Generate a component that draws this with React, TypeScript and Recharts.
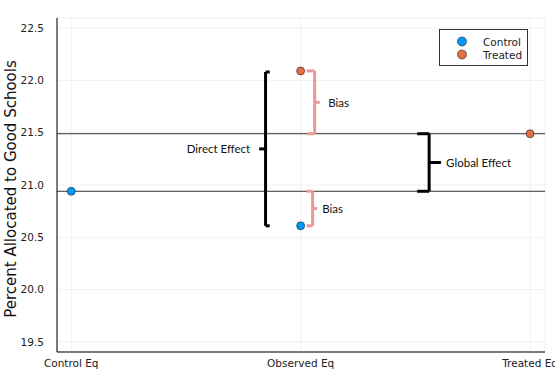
import {
  ComposedChart,
  Scatter,
  XAxis,
  YAxis,
  CartesianGrid,
  ReferenceLine,
} from "recharts";

const categories = ["Control Eq", "Observed Eq", "Treated Eq"];
const yTicks = [19.5, 20.0, 20.5, 21.0, 21.5, 22.0, 22.5];

const controlX = [0, 1];
const controlY = [20.94, 20.61];
const treatedX = [1, 2];
const treatedY = [22.09, 21.49];

// horizontal reference levels (treated / control equilibrium)
const levels = [21.49, 20.94];

// bracket annotations, in data units
const bracketLabels = ["Direct Effect", "Bias", "Bias", "Global Effect"];
const bracketSpineX = [0.847, 1.061, 1.052, 1.56];
const bracketSerifX = [0.865, 1.026, 1.026, 1.508];
const bracketTickX = [0.819, 1.083, 1.072, 1.612];
const bracketTextX = [0.78, 1.12, 1.094, 1.634];
const bracketLo = [20.61, 21.49, 20.61, 20.94];
const bracketHi = [22.08, 22.09, 20.94, 21.49];
const bracketColors = ["#000000", "#E99A97", "#E99A97", "#000000"];

const COLORS = { control: "#009AFA", treated: "#E26F46" };
const FONT = "'DejaVu Sans', sans-serif";

const controlData = controlX.map((x, i) => ({ x, y: controlY[i] }));
const treatedData = treatedX.map((x, i) => ({ x, y: treatedY[i] }));
const textData = bracketLabels.map((label, i) => ({
  x: bracketTextX[i],
  y: (bracketLo[i] + bracketHi[i]) / 2,
  label,
  anchor: bracketTextX[i] < bracketSpineX[i] ? "end" : "start",
}));

interface DotProps {
  cx?: number;
  cy?: number;
  fill?: string;
}

function Dot({ cx, cy, fill }: DotProps) {
  if (cx == null || cy == null) return null;
  return <circle cx={cx} cy={cy} r={4} fill={fill} stroke="#222" strokeWidth={0.6} />;
}

function TextMark(props: { cx?: number; cy?: number; payload?: { label: string; anchor: string } }) {
  const { cx, cy, payload } = props;
  if (cx == null || cy == null || !payload) return null;
  return (
    <text
      x={cx}
      y={cy}
      textAnchor={payload.anchor as "start" | "end"}
      dominantBaseline="central"
      fontFamily="Lato, sans-serif"
      fontSize={11.5}
      fill="#111"
    >
      {payload.label}
    </text>
  );
}

function LegendBox() {
  const rows = [
    { name: "Control", color: COLORS.control },
    { name: "Treated", color: COLORS.treated },
  ];
  return (
    <div
      style={{
        position: "absolute",
        left: 439,
        top: 29,
        width: 89,
        height: 37,
        border: "1px solid #333",
        background: "#fff",
        fontFamily: FONT,
        fontSize: 10.5,
        color: "#222",
        padding: "5px 0 0 0",
        boxSizing: "border-box",
      }}
    >
      {rows.map((r) => (
        <div key={r.name} style={{ display: "flex", alignItems: "center", height: 13 }}>
          <svg width={43} height={13}>
            <circle cx={22} cy={6.5} r={4.5} fill={r.color} stroke="#222" strokeWidth={0.6} />
          </svg>
          <span>{r.name}</span>
        </div>
      ))}
    </div>
  );
}

export default function App() {
  return (
    <div style={{ position: "absolute", left: 0, top: 0, width: 555, height: 386, background: "#fff" }}>
      <ComposedChart
        width={555}
        height={386}
        margin={{ top: 18, right: 10, bottom: 0, left: 0 }}
      >
        <CartesianGrid stroke="#000" strokeOpacity={0.07} strokeWidth={0.8} />
        <XAxis
          type="number"
          dataKey="x"
          domain={[-0.062, 2.065]}
          ticks={[0, 1, 2]}
          tickFormatter={(v: number) => categories[v] ?? ""}
          allowDataOverflow
          height={34}
          tickLine={false}
          tickMargin={2}
          axisLine={{ stroke: "#000", strokeWidth: 1 }}
          tick={{ fontSize: 10.5, fill: "#222", fontFamily: FONT }}
        />
        <YAxis
          type="number"
          dataKey="y"
          domain={[19.404, 22.596]}
          ticks={yTicks}
          tickFormatter={(v: number) => v.toFixed(1)}
          allowDataOverflow
          width={57}
          tickLine={false}
          tickMargin={7}
          axisLine={{ stroke: "#000", strokeWidth: 1 }}
          tick={{ fontSize: 10.5, fill: "#222", fontFamily: FONT }}
          label={{
            content: () => (
              <text
                x={11}
                y={189}
                transform="rotate(-90 11 189)"
                textAnchor="middle"
                dominantBaseline="central"
                fontFamily={FONT}
                fontSize={15}
                fill="#111"
              >
                Percent Allocated to Good Schools
              </text>
            ),
          }}
        />
        {levels.map((v) => (
          <ReferenceLine key={v} y={v} stroke="#333" strokeWidth={1} />
        ))}
        {bracketLabels.map((_, i) => {
          const mid = (bracketLo[i] + bracketHi[i]) / 2;
          const c = bracketColors[i];
          return [
            <ReferenceLine
              key={`s${i}`}
              segment={[
                { x: bracketSpineX[i], y: bracketLo[i] },
                { x: bracketSpineX[i], y: bracketHi[i] },
              ]}
              stroke={c}
              strokeWidth={3}
              ifOverflow="visible"
            />,
            <ReferenceLine
              key={`t${i}`}
              segment={[
                { x: bracketSerifX[i], y: bracketHi[i] },
                { x: bracketSpineX[i], y: bracketHi[i] },
              ]}
              stroke={c}
              strokeWidth={3}
              ifOverflow="visible"
            />,
            <ReferenceLine
              key={`b${i}`}
              segment={[
                { x: bracketSerifX[i], y: bracketLo[i] },
                { x: bracketSpineX[i], y: bracketLo[i] },
              ]}
              stroke={c}
              strokeWidth={3}
              ifOverflow="visible"
            />,
            <ReferenceLine
              key={`m${i}`}
              segment={[
                { x: bracketSpineX[i], y: mid },
                { x: bracketTickX[i], y: mid },
              ]}
              stroke={c}
              strokeWidth={3}
              ifOverflow="visible"
            />,
          ];
        })}
        <Scatter
          name="labels"
          data={textData}
          shape={(p: any) => <TextMark {...p} />}
          isAnimationActive={false}
          legendType="none"
        />
        <Scatter
          name="Control"
          data={controlData}
          fill={COLORS.control}
          shape={(p: any) => <Dot {...p} fill={COLORS.control} />}
          isAnimationActive={false}
        />
        <Scatter
          name="Treated"
          data={treatedData}
          fill={COLORS.treated}
          shape={(p: any) => <Dot {...p} fill={COLORS.treated} />}
          isAnimationActive={false}
        />
      </ComposedChart>
      <LegendBox />
    </div>
  );
}
